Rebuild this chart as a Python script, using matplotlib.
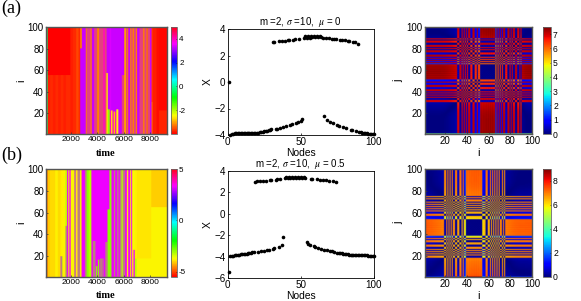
import matplotlib
matplotlib.use("Agg")
import matplotlib.pyplot as plt
import numpy as np

plt.rcParams['font.family'] = ['Liberation Sans', 'DejaVu Sans']
plt.rcParams['mathtext.fontset'] = 'stix'

W, H = 581, 301
MIX = 99.0

# node states
x_a = [0.0,-3.98,-3.92,-3.9,-3.88,-3.88,-3.88,-3.88,-3.88,-3.88,
       -3.88,-3.88,-3.88,-3.88,-3.88,-3.87,-3.87,-3.86,-3.85,-3.84,
       -3.82,-3.8,-3.78,-3.75,-3.72,-3.7,-3.68,-3.65,-3.6,-3.58,
       3.0,3.02,-3.55,-3.55,3.08,-3.45,3.1,-3.4,3.13,-3.35,
       3.15,3.16,-3.25,-3.2,3.2,3.21,-3.1,-3.05,3.25,-2.95,
       -2.8,3.3,3.45,3.32,3.47,3.34,3.48,3.36,3.48,3.38,
       3.48,3.38,3.47,3.36,3.35,-2.6,3.31,-2.85,3.3,-3.0,
       3.28,-3.1,3.25,3.24,-3.25,-3.3,3.2,3.18,-3.42,3.15,
       -3.5,3.1,3.08,-3.6,-3.62,3.02,3.0,-3.7,2.9,-3.75,
       -3.78,-3.82,-3.85,-3.87,-3.88,-3.9,-3.9,-3.92,-3.92,-3.95]
x_b = [-5.45,-3.98,-3.95,-3.9,-3.88,-3.85,-3.85,-3.82,-3.8,-3.78,
       -3.76,-3.74,-3.72,-3.7,-3.68,-3.62,-3.58,-3.6,3.0,3.02,
       -3.55,3.05,-3.5,3.08,-3.45,3.1,-3.4,-3.38,3.15,3.16,
       -3.25,-3.2,3.2,3.21,-3.1,3.23,-2.9,-2.15,3.3,3.42,
       3.32,3.45,3.34,3.46,3.36,3.47,3.38,3.47,3.38,3.46,
       3.36,3.44,3.32,-2.6,-2.85,-2.95,3.28,3.26,-3.05,-3.1,
       3.22,-3.2,3.2,-3.28,3.16,-3.35,3.12,-3.42,3.08,-3.5,
       -3.52,3.02,-3.58,2.95,-3.62,-3.65,-3.68,-3.7,-3.72,-3.75,
       -3.78,-3.8,-3.82,-3.84,-3.85,-3.86,-3.87,-3.88,-3.88,-3.88,
       -3.88,-3.88,-3.89,-3.89,-3.89,-3.9,-3.9,-3.9,-3.9,-3.9]

# space-time bands of panel (a): time edges, value up to split, value above split
a_edges = [100,220,420,620,820,1020,1220,1420,1620,1935,2150,2400,2560,2690,2815,3120,3200,3500,3570,3750,
           4000,4130,4450,4560,4700,4800,4950,5050,5150,5250,5350,5450,5600,5870,6050,6175,6260,6330,6480,
           6560,6700,6770,6950,7020,7200,7500,7570,7750,7830,8000,8115,8200,8500,8700,9300]
a_low = [-0.3,-3.8,-3.72,-3.8,-3.72,-3.8,-3.72,-3.8,-3.72,-3.82,-3.72,-3.55,-3.75,3.3,3.3,-3.2,MIX,-3.2,3.3,MIX,
         -3.2,MIX,3.9,MIX,-2.6,-1.8,3.9,-2.5,3.9,-2.8,3.9,-2.5,3.3,MIX,-3.0,MIX,-3.2,3.3,-3.2,
         MIX,-3.2,MIX,-3.2,3.3,MIX,-3.2,MIX,-3.3,MIX,3.3,-3.3,-3.82,-3.9,-3.78]
a_high = [-0.3,-3.97,-3.97,-3.97,-3.97,-3.97,-3.97,-3.97,-3.97,-3.82,-3.72,-3.55,-3.75,-3.2,3.3,-3.2,MIX,-3.2,3.3,MIX,
          -3.2,MIX,3.9,MIX,3.3,3.3,3.4,3.3,3.3,3.3,3.3,3.3,3.3,3.3,-3.0,MIX,-3.2,3.3,-3.2,
          MIX,-3.2,MIX,-3.2,3.3,MIX,-3.2,MIX,-3.3,MIX,3.3,-3.6,-3.82,-3.9,-3.95]
a_split = [100,55,55,55,55,55,55,55,55,100,100,100,100,80,100,100,100,100,100,100,
           100,100,100,100,57,23,22,22,22,21,21,23,100,55,100,100,100,100,100,
           100,100,100,100,100,100,100,100,100,100,100,30,100,100,22]

# space-time bands of panel (b)
b_edges = [100,200,400,800,1000,1180,1330,1560,1680,1780,
           1860,1960,2240,2360,2490,2690,2790,3040,3190,3340,
           3550,3670,3830,3880,3980,4050,4130,4200,4380,4430,
           4500,4580,4760,4910,5040,5100,5250,5350,5500,5600,
           5720,5850,5950,6100,6230,6350,6480,6560,6650,6750,
           6850,7000,8100,9300]
b_low = [-5.4,-4.1,-3.95,-3.8,-3.95,MIX,-3.8,MIX,3.25,-3.6,
         3.25,-3.75,MIX,-3.75,MIX,-3.75,3.25,MIX,-2.9,-3.2,
         3.25,MIX,3.25,-2.9,3.25,-2.9,3.25,MIX,3.25,MIX,
         3.25,MIX,-2.9,-2.9,MIX,3.25,MIX,3.25,MIX,3.25,
         MIX,-3.2,MIX,3.25,-3.7,3.25,-3.7,3.25,-3.7,3.25,
         -3.3,-3.75,-3.75]
b_high = [-5.4,-4.1,-3.95,-3.8,-3.95,-3.85,-3.8,-3.3,3.25,-3.6,
          3.25,-3.75,MIX,-3.75,MIX,-3.75,3.25,MIX,-2.9,-3.2,
          3.25,3.25,3.25,3.25,3.25,3.25,3.25,3.25,3.25,3.25,
          3.25,3.25,3.25,-2.9,MIX,3.25,MIX,3.25,MIX,3.25,
          MIX,-3.2,MIX,3.25,-3.7,3.25,-3.7,3.25,-3.7,-3.7,
          -3.8,-3.9,-4.05]
b_split = [100,100,100,100,100,19,100,47,100,100,
           100,100,100,100,100,100,100,100,100,100,
           100,33,100,10,100,16,100,17,100,17,
           100,32,62,100,100,100,100,100,100,100,
           100,100,100,100,100,100,100,100,100,25,
           17,17,64]

t_ticks = [2000, 4000, 6000, 8000]
i_ticks = [20, 40, 60, 80, 100]


def pax(x0, y0, x1, y1):
    # axes from pixel box, y counted from the top of the picture
    return fig.add_axes([x0 / W, 1 - y1 / H, (x1 - x0) / W, (y1 - y0) / H])


def frame(ax, color='#555555', lw=1.0):
    for s in ax.spines.values():
        s.set_color(color)
        s.set_linewidth(lw)


def space_time(edges, low, high, split, mix_pair):
    tt = np.arange(100, 9300, 25)
    z = np.zeros((100, len(tt)))
    for k in range(len(low)):
        on = (tt >= edges[k]) & (tt < edges[k + 1])
        for c in np.where(on)[0]:
            v1 = low[k] if low[k] != MIX else mix_pair[c % 2]
            v2 = high[k] if high[k] != MIX else mix_pair[c % 2]
            z[:split[k], c] = v1
            z[split[k]:, c] = v2
    return z


def left_panel(y0, y1, z, vmin, vmax, cticks):
    ax = pax(46, y0, 167, y1)
    im = ax.imshow(z, origin='lower', aspect='auto', cmap='hsv', vmin=vmin, vmax=vmax,
                   extent=[100, 9300, 1, 100], interpolation='antialiased', interpolation_stage='rgba')
    ax.set_xticks(t_ticks)
    ax.set_yticks(i_ticks)
    ax.tick_params(axis='x', labelsize=6, length=1.5, width=0.5, pad=1.5, direction='in', color='#333333')
    ax.tick_params(axis='y', labelsize=7, length=1.5, width=0.5, pad=1.5, direction='in', color='#333333')
    frame(ax)
    fig.text(21 / W, 1 - (y0 + y1) / 2 / H, 'i', rotation=90, fontsize=8, ha='center', va='center')
    fig.text(106 / W, 1 - (y1 + 19) / H, 'time', fontsize=7.6, fontweight='bold',
             family='Liberation Serif', ha='center', va='center')
    cax = pax(171, y0, 177, y1)
    cb = fig.colorbar(im, cax=cax, ticks=cticks)
    cb.ax.set_yticklabels([str(c) for c in cticks])
    cb.ax.tick_params(labelsize=5.8, length=1, width=0.4, pad=1.5, direction='in')
    cb.outline.set_edgecolor('#666666')
    cb.outline.set_linewidth(0.6)


def mid_panel(y0, y1, x, ylim, yticks, title):
    ax = pax(227.5, y0, 374, y1)
    ax.plot(np.arange(1, 101), x, 'o', color='black', ms=2.6, mew=0, clip_on=False)
    ax.set_xlim(0, 100)
    ax.set_ylim(ylim)
    ax.set_xticks([0, 50, 100])
    ax.set_yticks(yticks)
    ax.tick_params(labelsize=7.1, length=1.5, width=0.5, pad=1.5, direction='in')
    frame(ax, 'black', 0.6)
    ax.set_title(title, fontsize=7, pad=1.5)
    ax.set_xlabel('Nodes', fontsize=7.4, labelpad=1)
    ax.set_ylabel('X', fontsize=7.4, labelpad=1)


def right_panel(y0, y1, x, vmax, cticks):
    ax = pax(424.5, y0, 532, y1)
    xx = np.array(x)
    m = np.abs(xx[:, None] - xx[None, :])
    im = ax.imshow(m, origin='lower', aspect='auto', cmap='jet', vmin=0, vmax=vmax,
                   extent=[0.5, 100.5, 0.5, 100.5], interpolation='gaussian', interpolation_stage='rgba')
    ax.set_xlim(1, 100)
    ax.set_ylim(1, 100)
    ax.set_xticks(i_ticks)
    ax.set_yticks(i_ticks)
    ax.tick_params(labelsize=7, length=1.5, width=0.5, pad=1.5, direction='in', color='#333333')
    frame(ax)
    fig.text(398 / W, 1 - (y0 + y1) / 2 / H, 'j', rotation=90, fontsize=8, ha='center', va='center')
    fig.text(478 / W, 1 - (y1 + 19) / H, 'i', fontsize=8, ha='center', va='center')
    cax = pax(543, y0, 551, y1)
    cb = fig.colorbar(im, cax=cax, ticks=cticks)
    cb.ax.tick_params(labelsize=6.2, length=1, width=0.4, pad=1.5, direction='in')
    cb.outline.set_edgecolor('#666666')
    cb.outline.set_linewidth(0.6)


fig = plt.figure(figsize=(W / 100, H / 100), dpi=100)

z_a = space_time(a_edges, a_low, a_high, a_split, (3.3, -3.2))
z_b = space_time(b_edges, b_low, b_high, b_split, (3.25, -2.9))

left_panel(27, 134, z_a, -4, 5, [-2, 0, 2, 4])
left_panel(169, 277, z_b, -5.5, 5, [-5, 0, 5])

mid_panel(29, 135, x_a, (-4, 4), [-4, -2, 0, 2, 4], r'm =2, $\sigma$ =10,  $\mu$ = 0')
mid_panel(171, 278, x_b, (-6, 4), [-6, -4, -2, 0, 2, 4], r'm =2, $\sigma$ =10,  $\mu$ = 0.5')

right_panel(27, 134, x_a, 7.5, [0, 1, 2, 3, 4, 5, 6, 7])
right_panel(169, 277, x_b, 9, [0, 2, 4, 6, 8])

fig.text(1 / W, 1 - 8 / H, '(a)', fontsize=13, family='Liberation Serif', ha='left', va='center')
fig.text(1 / W, 1 - 155 / H, '(b)', fontsize=13, family='Liberation Serif', ha='left', va='center')

fig.savefig('out.png', dpi=100)
